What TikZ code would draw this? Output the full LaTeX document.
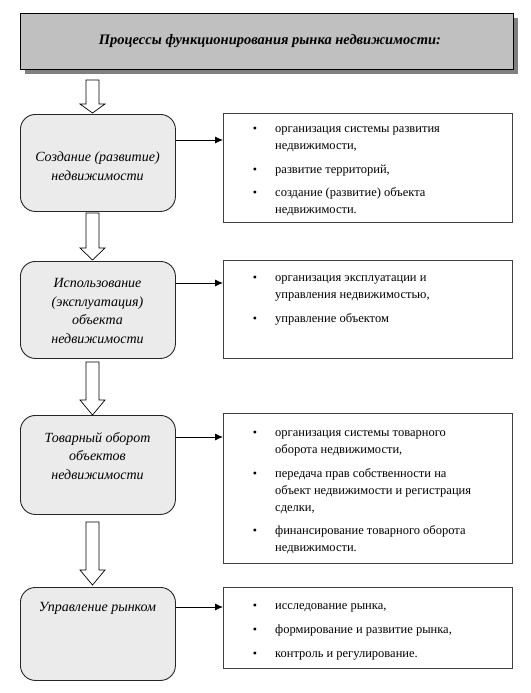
\documentclass[tikz,border=0pt]{standalone}
\usepackage{fontspec}
\setmainfont{Liberation Serif}
\usetikzlibrary{arrows.meta,calc}
\definecolor{titlegray}{HTML}{C0C0C0}
\definecolor{shadegray}{HTML}{808080}
\definecolor{boxgray}{HTML}{EBEBEB}
\newcommand{\rline}[3]{\node[rt] (#1) at (275,#2) {#3};}
\newcommand{\rbul}[2]{\node[bul] (#1) at (255,#2) {\textbullet};}
\newcommand{\blockarrow}[4]{%
  \draw[barrow] (86,#2) -- (99,#2) -- (99,#3) -- (105,#3) -- (92.5,#4)
     -- (80,#3) -- (86,#3) -- cycle;
  \coordinate (#1) at (92.5,#4);}
\begin{document}
\begin{tikzpicture}[x=1pt,y=-1pt,
  titlebox/.style={draw=black, line width=0.8pt, fill=titlegray, anchor=north west,
    inner sep=0pt, font=\bfseries\itshape\fontsize{14.5}{16}\selectfont},
  lbox/.style={draw=black!85, line width=0.9pt, fill=boxgray, rounded corners=15pt,
    anchor=north west, inner sep=0pt},
  rbox/.style={draw=black!75, line width=0.8pt, fill=white, anchor=north west, inner sep=0pt},
  lt/.style={align=center, inner sep=0pt, font=\itshape\fontsize{14}{18.5}\selectfont},
  rt/.style={anchor=west, inner sep=0pt, text height=8.5pt, text depth=3pt,
    font=\fontsize{12.5}{15}\selectfont},
  bul/.style={inner sep=0pt, font=\fontsize{12}{14}\selectfont},
  barrow/.style={draw=black, line width=0.7pt, fill=white},
  conn/.style={draw=black, line width=0.8pt, -{Latex[length=8pt,width=7pt]}}]
\useasboundingbox (0,0) rectangle (530,693);
% title
\fill[shadegray] (25,18) rectangle (518,74);
\node[titlebox, minimum width=493pt, minimum height=56pt] (title) at (20,13)
  {\hspace*{6pt}Процессы функционирования рынка недвижимости:};
% left boxes
\node[lbox, minimum width=155pt, minimum height=97pt] (b1) at (20,114) {};
\node[lbox, minimum width=155pt, minimum height=97pt] (b2) at (20,261) {};
\node[lbox, minimum width=155pt, minimum height=99pt] (b3) at (20,415) {};
\node[lbox, minimum width=155pt, minimum height=93pt] (b4) at (20,587) {};
\node[lt] (t1) at (97.5,166) {Создание (развитие)\\недвижимости};
\node[lt] (t2) at (97.5,311) {Использование\\(эксплуатация)\\объекта\\недвижимости};
\node[lt] (t3) at (97.5,456) {Товарный оборот\\объектов\\недвижимости};
\node[lt] (t4) at (97.5,608) {Управление рынком};
% right boxes
\node[rbox, minimum width=289pt, minimum height=109pt] (r1) at (223,113) {};
\node[rbox, minimum width=289pt, minimum height=98pt] (r2) at (223,260) {};
\node[rbox, minimum width=289pt, minimum height=150pt] (r3) at (223,413) {};
\node[rbox, minimum width=289pt, minimum height=81pt] (r4) at (223,587) {};
% right texts
\rbul{p1a}{130}\rline{l1a}{130}{организация системы развития}
\rline{l1b}{147}{недвижимости,}
\rbul{p1b}{171}\rline{l1c}{171}{развитие территорий,}
\rbul{p1c}{194}\rline{l1d}{194}{создание (развитие) объекта}
\rline{l1e}{211}{недвижимости.}
\rbul{p2a}{279}\rline{l2a}{279}{организация эксплуатации и}
\rline{l2b}{296}{управления недвижимостью,}
\rbul{p2b}{320}\rline{l2c}{320}{управление объектом}
\rbul{p3a}{434}\rline{l3a}{434}{организация системы товарного}
\rline{l3b}{451}{оборота недвижимости,}
\rbul{p3b}{475}\rline{l3c}{475}{передача прав собственности на}
\rline{l3d}{492}{объект недвижимости и регистрация}
\rline{l3e}{509}{сделки,}
\rbul{p3c}{532}\rline{l3f}{532}{финансирование товарного оборота}
\rline{l3g}{549}{недвижимости.}
\rbul{p4a}{607}\rline{l4a}{607}{исследование рынка,}
\rbul{p4b}{631}\rline{l4b}{631}{формирование и развитие рынка,}
\rbul{p4c}{655}\rline{l4c}{655}{контроль и регулирование.}
% connectors
\coordinate (c1) at (0,140);
\coordinate (c2) at (0,283);
\coordinate (c3) at (0,437);
\coordinate (c4) at (0,607);
\draw[conn] (b1.east |- c1) -- (r1.west |- c1);
\draw[conn] (b2.east |- c2) -- (r2.west |- c2);
\draw[conn] (b3.east |- c3) -- (r3.west |- c3);
\draw[conn] (b4.east |- c4) -- (r4.west |- c4);
% block arrows
\blockarrow{a1}{80}{104}{113}
\blockarrow{a2}{213}{248}{260}
\blockarrow{a3}{362}{400}{415}
\blockarrow{a4}{522}{570}{585}
\end{tikzpicture}
\end{document}
